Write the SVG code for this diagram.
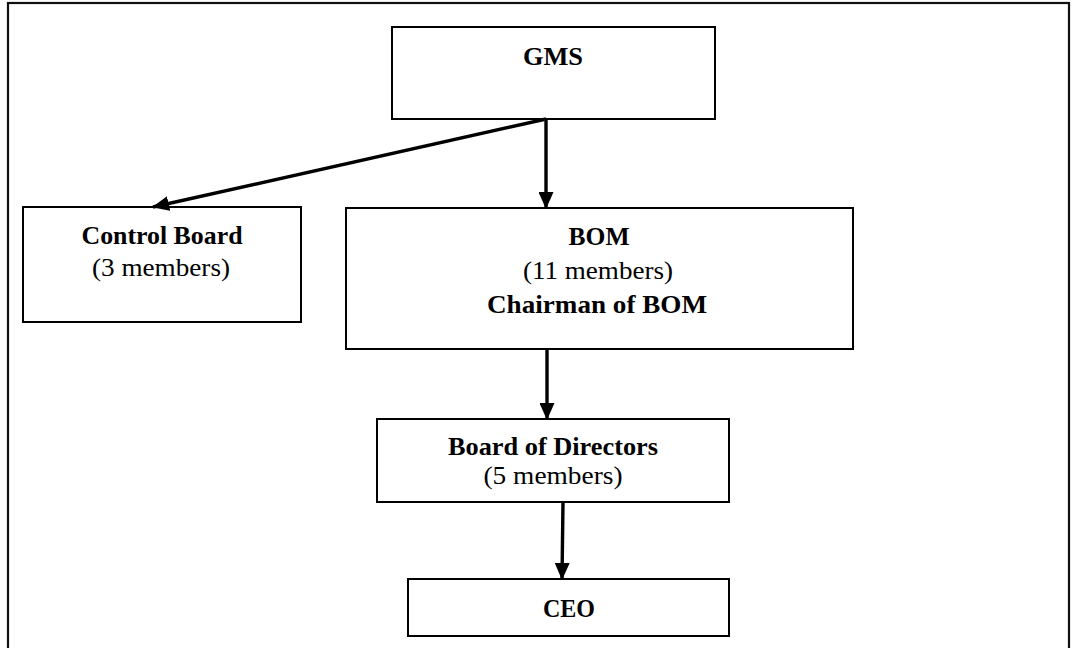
<svg xmlns="http://www.w3.org/2000/svg" width="1074" height="648" viewBox="0 0 1074 648">
<style>
.box{fill:#fff;stroke:#000;stroke-width:2}
.frame{fill:#fff;stroke:#111;stroke-width:2.2}
.con{fill:none;stroke:#000;stroke-width:3.4}
text{font-family:"Liberation Serif","Times New Roman",serif;font-size:24.5px;fill:#000;text-anchor:middle}
.b{font-weight:bold}
</style>
<defs>
<marker id="ah" markerUnits="userSpaceOnUse" markerWidth="17" markerHeight="15" viewBox="0 0 17 15" refX="16" refY="7.5" orient="auto">
<path d="M0,0 L17,7.5 L0,15 Z" fill="#000"/>
</marker>
</defs>
<rect class="frame" x="8" y="3" width="1061" height="660"/>
<g id="gms">
<rect class="box" x="392" y="27" width="323" height="92"/>
<text class="b" x="553" y="65" textLength="60" lengthAdjust="spacingAndGlyphs">GMS</text>
</g>
<g id="control-board">
<rect class="box" x="23" y="207" width="278" height="115"/>
<text class="b" x="162" y="244" textLength="161" lengthAdjust="spacingAndGlyphs">Control Board</text>
<text x="161" y="276" textLength="138" lengthAdjust="spacingAndGlyphs">(3 members)</text>
</g>
<g id="bom">
<rect class="box" x="346" y="208" width="507" height="141"/>
<text class="b" x="599" y="245" textLength="61" lengthAdjust="spacingAndGlyphs">BOM</text>
<text x="598" y="279" textLength="150" lengthAdjust="spacingAndGlyphs">(11 members)</text>
<text class="b" x="597" y="313" textLength="220" lengthAdjust="spacingAndGlyphs">Chairman of BOM</text>
</g>
<g id="board-of-directors">
<rect class="box" x="377" y="419" width="352" height="83"/>
<text class="b" x="553" y="455" textLength="210" lengthAdjust="spacingAndGlyphs">Board of Directors</text>
<text x="553" y="484" textLength="139" lengthAdjust="spacingAndGlyphs">(5 members)</text>
</g>
<g id="ceo">
<rect class="box" x="408" y="579" width="321" height="57"/>
<text class="b" x="569" y="617" textLength="52" lengthAdjust="spacingAndGlyphs">CEO</text>
</g>
<g id="connectors">
<line class="con" x1="546" y1="119" x2="153" y2="207" marker-end="url(#ah)"/>
<line class="con" x1="546" y1="119" x2="546" y2="208" marker-end="url(#ah)"/>
<line class="con" x1="547" y1="349" x2="547" y2="419" marker-end="url(#ah)"/>
<line class="con" x1="563" y1="502" x2="562" y2="579" marker-end="url(#ah)"/>
</g>
</svg>
